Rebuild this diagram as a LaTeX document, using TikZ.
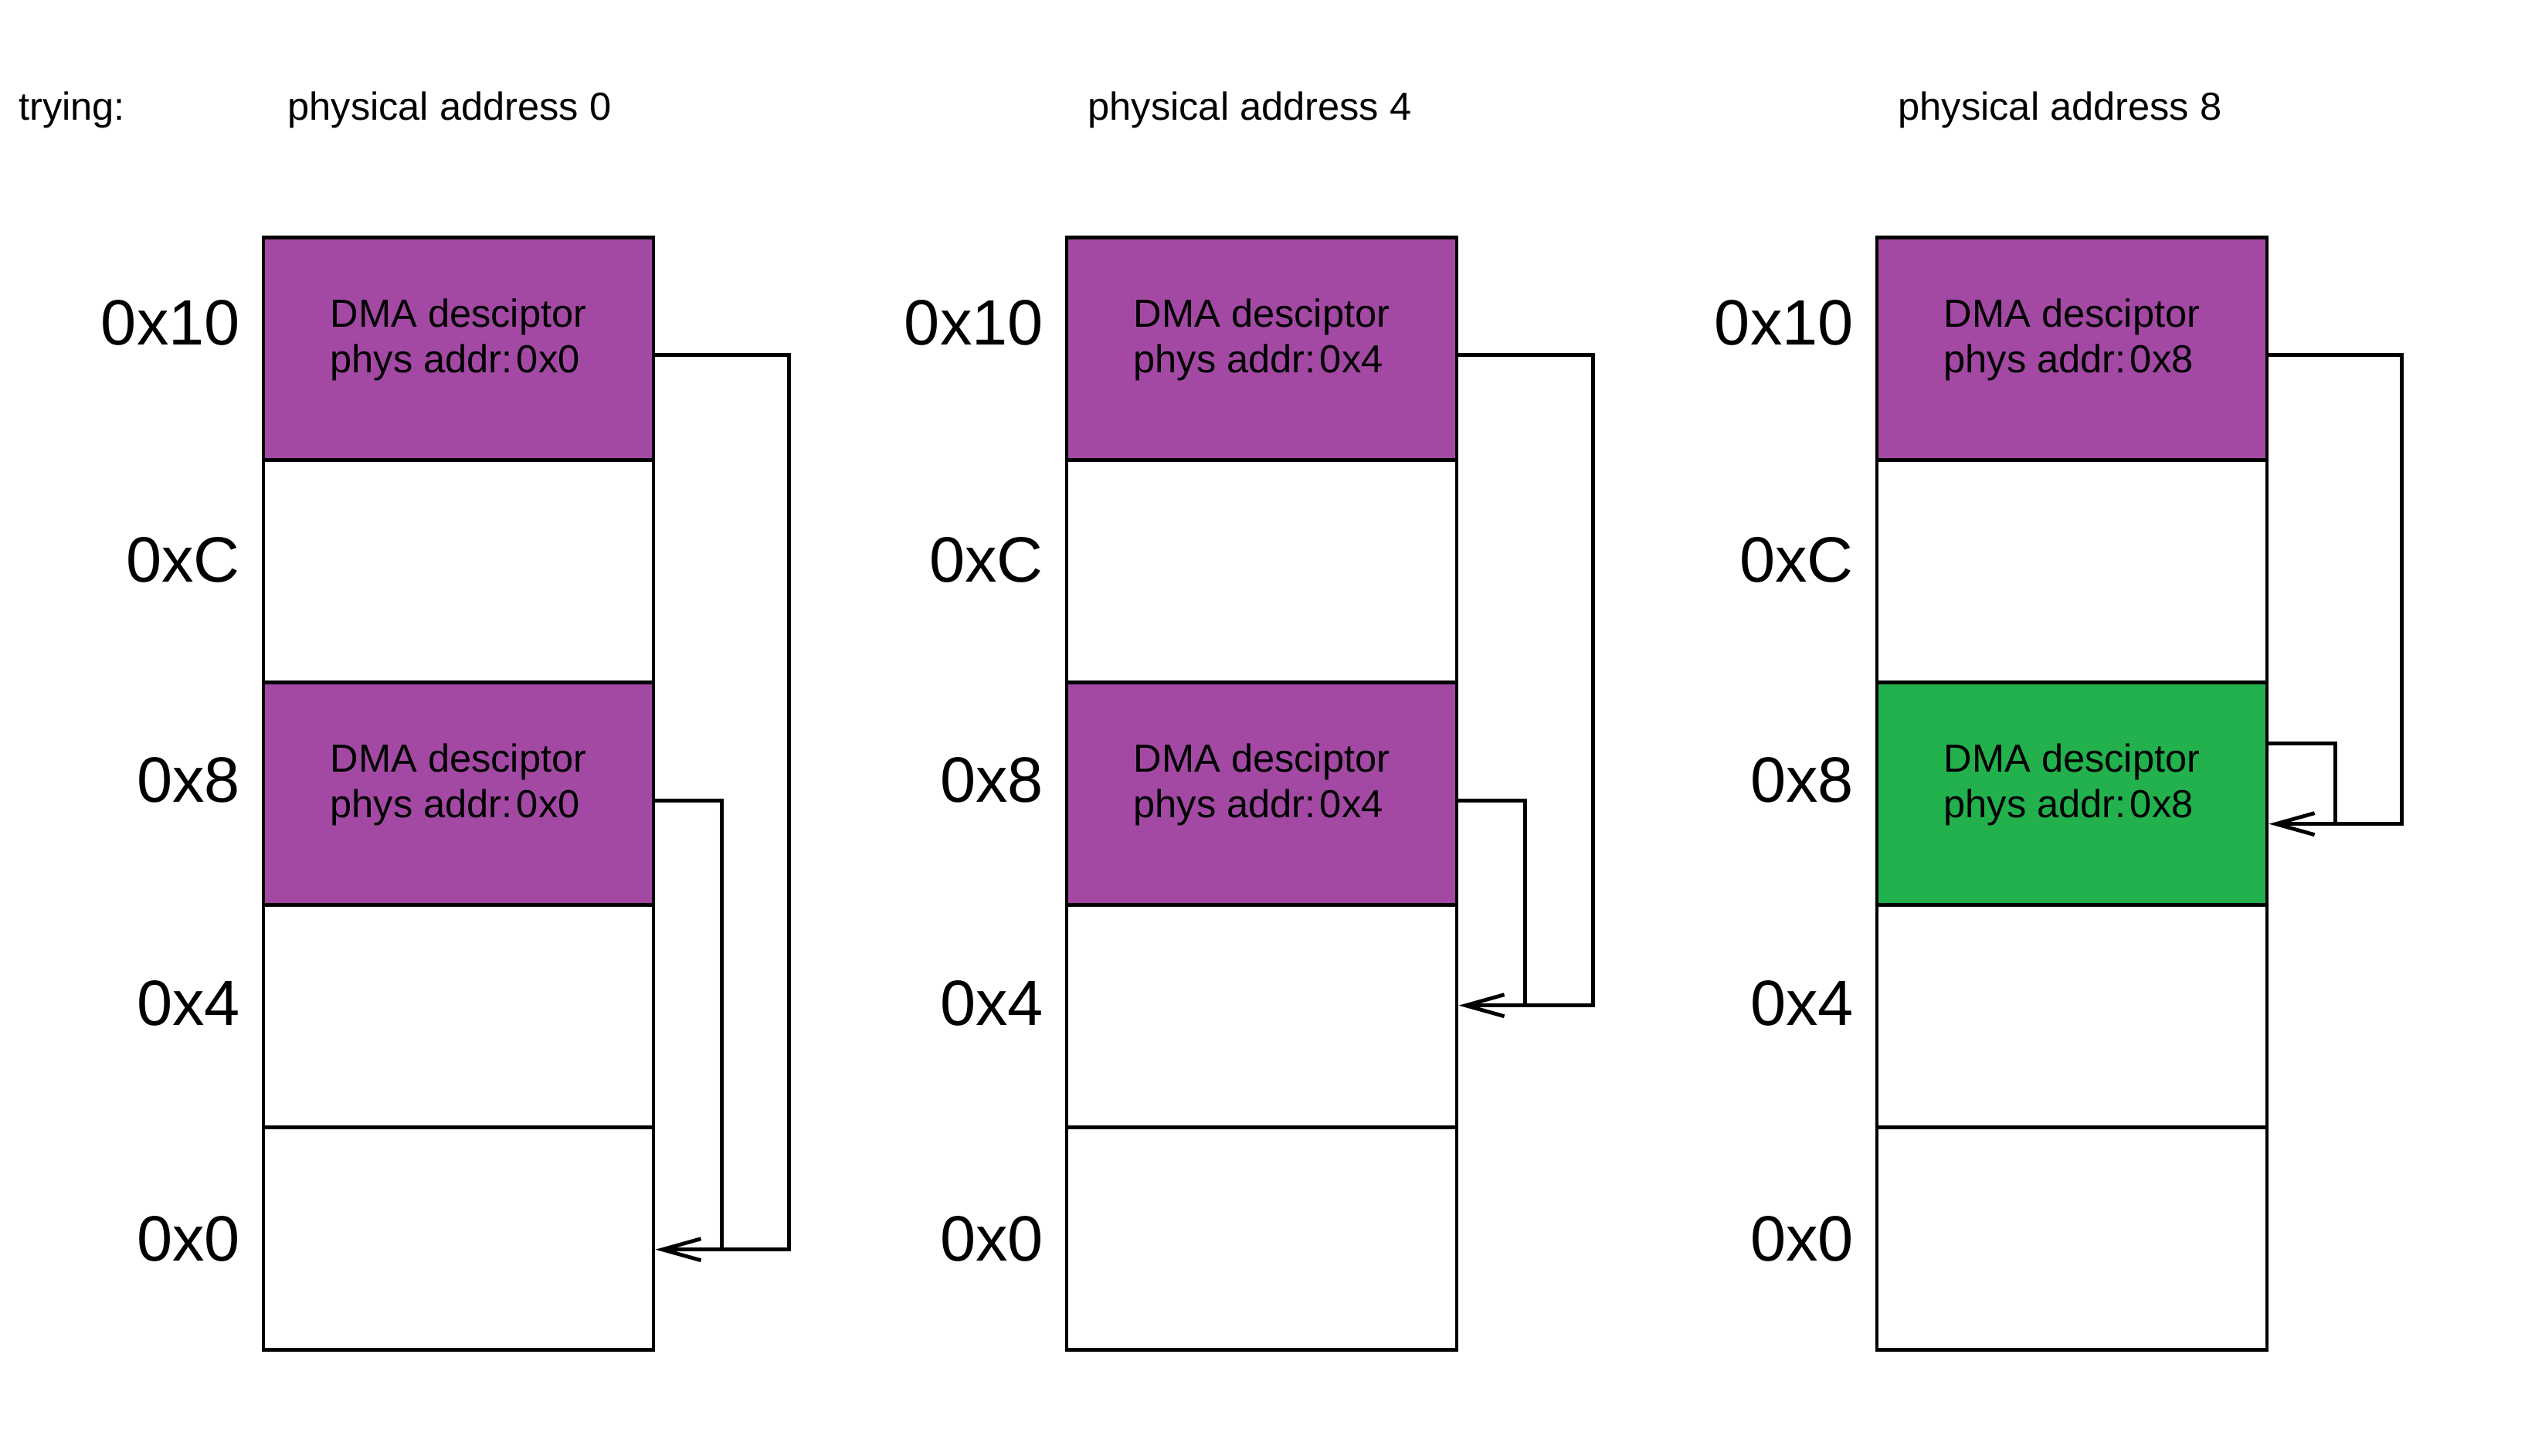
\documentclass[tikz,border=0pt]{standalone}
\usepackage{fontspec}
\setmainfont{Liberation Sans}
\usetikzlibrary{arrows.meta}
\definecolor{dmapurple}{RGB}{163,73,164}
\definecolor{dmagreen}{RGB}{34,177,76}

\begin{document}
\begin{tikzpicture}[>={Straight Barb[length=5mm,width=2.8mm]}, line width=1.4pt,
    cell/.style={draw, minimum width=5.05cm, minimum height=2.88cm, inner sep=0pt},
    desc/.style={align=left, font=\fontsize{14.4}{16.8}\selectfont},
    addr/.style={anchor=base east, font=\fontsize{23.6}{28}\selectfont},
    head/.style={anchor=base, font=\fontsize{14.4}{17}\selectfont}]
\useasboundingbox (0,0) rectangle (32.82,-18.85);

\node[head, anchor=base west] (try) at (.10,-1.56) {trying:};

% three memory columns, one per try
\foreach \c/\x/\hx/\a/\eight in {1/3.41/5.82/0/dmapurple, 2/13.81/16.18/4/dmapurple, 3/24.30/26.67/8/dmagreen}{
    \foreach \adr/\ly/\fc [count=\r] in {10/4.46/dmapurple, C/7.53/white, 8/10.38/\eight, 4/13.27/white, 0/16.32/white}{
        \node[cell, fill=\fc] (m\c-\adr) at (\x+2.525, {-3.077-2.88*(\r-.5)}) {};
        \node[addr] (l\c-\adr) at (\x-.16, -\ly) {0x\adr};
    }
    \node[head] (h\c) at (\hx,-1.56) {physical address \a};
    \node[desc] (d\c-10) at ([yshift=1.2mm]m\c-10.center) {DMA desciptor\\phys addr:\hspace{.1em}0x\a};
    \node[desc] (d\c-8) at ([yshift=1.2mm]m\c-8.center) {DMA desciptor\\phys addr:\hspace{.1em}0x\a};
}

% next pointers
\draw[->] ([yshift=-.8mm]m1-10.east) -| ([xshift=1.73cm,yshift=-1.4mm]m1-0.east) -- ([yshift=-1.4mm]m1-0.east);
\draw ([yshift=-.9mm]m1-8.east) -| ([xshift=.86cm,yshift=-1.4mm]m1-0.east);

\draw[->] ([yshift=-.8mm]m2-10.east) -| ([xshift=1.74cm,yshift=1.4mm]m2-4.east) -- ([yshift=1.4mm]m2-4.east);
\draw ([yshift=-.9mm]m2-8.east) -| ([xshift=.86cm,yshift=1.4mm]m2-4.east);

\draw[->] ([yshift=-.8mm]m3-10.east) -| ([xshift=1.72cm,yshift=-3.9mm]m3-8.east) -- ([yshift=-3.9mm]m3-8.east);
\draw ([yshift=6.5mm]m3-8.east) -| ([xshift=.86cm,yshift=-3.9mm]m3-8.east);

\end{tikzpicture}
\end{document}
